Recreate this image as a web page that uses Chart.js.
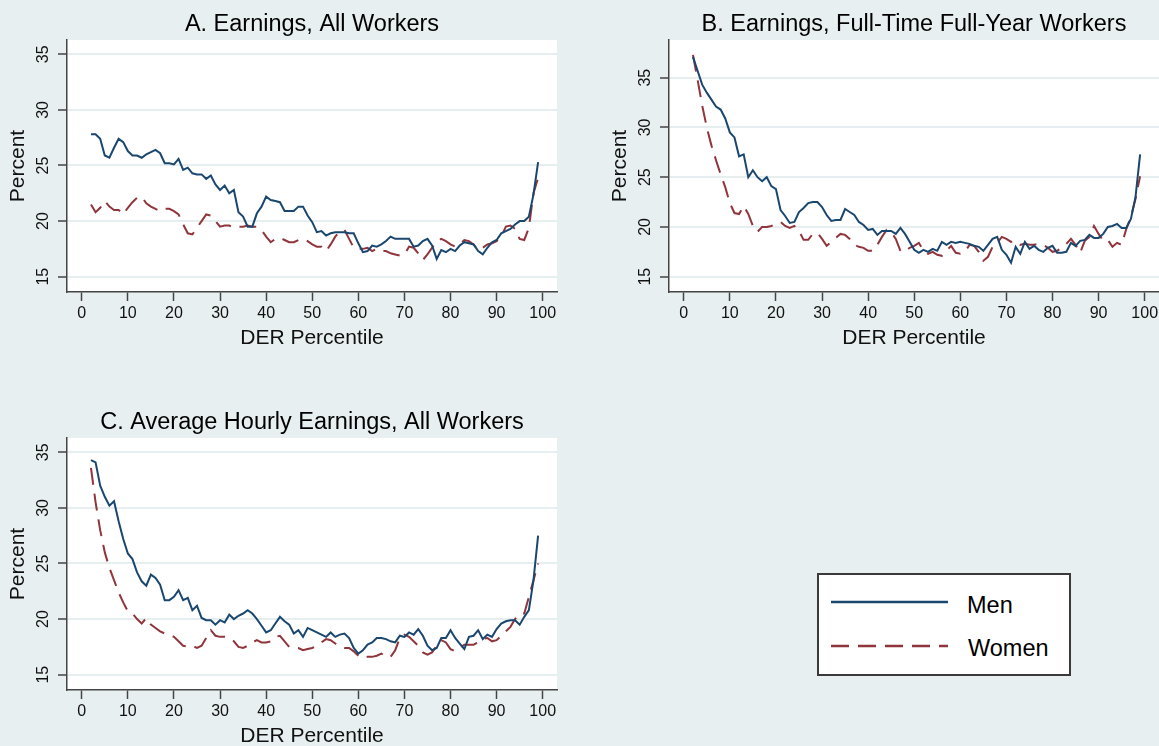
<!DOCTYPE html>
<html>
<head>
<meta charset="utf-8">
<script src="https://cdn.jsdelivr.net/npm/chart.js@4.4.1/dist/chart.umd.min.js"></script>
<style>
  html, body { margin: 0; padding: 0; width: 1159px; height: 746px; overflow: hidden; background: #e8eff0; }
  canvas { position: absolute; }
  #legend { position: absolute; left: 817px; top: 573px; }
</style>
</head>
<body>
<canvas id="panelA" width="580" height="360" style="left:0px;top:0px"></canvas>
<canvas id="panelB" width="580" height="360" style="left:602px;top:0px"></canvas>
<canvas id="panelC" width="580" height="360" style="left:0px;top:398px"></canvas>

<svg id="legend" width="254" height="103" font-family="Liberation Sans, Arial, sans-serif">
  <rect x="1" y="1" width="252" height="101" fill="#fff" stroke="#3a3a3a" stroke-width="2"/>
  <line x1="14" y1="29" x2="131" y2="29" stroke="#1a476f" stroke-width="2.5"/>
  <line x1="14" y1="73" x2="131" y2="73" stroke="#90353b" stroke-width="2.5" stroke-dasharray="18 9"/>
  <text x="150" y="40" font-size="23.5" fill="#000">Men</text>
  <text x="151" y="83" font-size="23.5" fill="#000">Women</text>
</svg>

<script>
const FONT = '"Liberation Sans", Arial, Helvetica, sans-serif';
const MEN_COLOR = '#1a476f';
const WOMEN_COLOR = '#90353b';

// DER percentile (x) for every point
const percentiles = [
  2, 3, 4, 5, 6, 7, 8, 9, 10, 11, 12, 13, 14, 15, 16, 17, 18, 19, 20, 21,
  22, 23, 24, 25, 26, 27, 28, 29, 30, 31, 32, 33, 34, 35, 36, 37, 38, 39, 40, 41,
  42, 43, 44, 45, 46, 47, 48, 49, 50, 51, 52, 53, 54, 55, 56, 57, 58, 59, 60, 61,
  62, 63, 64, 65, 66, 67, 68, 69, 70, 71, 72, 73, 74, 75, 76, 77, 78, 79, 80, 81,
  82, 83, 84, 85, 86, 87, 88, 89, 90, 91, 92, 93, 94, 95, 96, 97, 98, 99
];

const xTicks = [0, 10, 20, 30, 40, 50, 60, 70, 80, 90, 100];
const yTicks = [15, 20, 25, 30, 35];

// A. Earnings, All Workers
const menA = [
  27.8, 27.8, 27.4, 25.9, 25.7, 26.6, 27.4, 27.1, 26.3, 25.9,
  25.9, 25.7, 26.0, 26.2, 26.4, 26.1, 25.2, 25.2, 25.1, 25.6,
  24.6, 24.8, 24.3, 24.2, 24.2, 23.8, 24.1, 23.3, 22.8, 23.2,
  22.5, 22.8, 20.8, 20.4, 19.5, 19.5, 20.7, 21.3, 22.2, 21.9,
  21.8, 21.7, 20.9, 20.9, 20.9, 21.3, 21.3, 20.5, 19.9, 19.0,
  19.1, 18.7, 18.9, 19.0, 19.0, 19.0, 18.9, 18.9, 18.0, 17.2,
  17.3, 17.8, 17.7, 17.9, 18.2, 18.6, 18.4, 18.4, 18.4, 18.4,
  17.7, 17.8, 18.2, 18.4, 17.8, 16.6, 17.4, 17.2, 17.5, 17.3,
  17.8, 18.1, 18.0, 17.9, 17.3, 17.0, 17.6, 18.1, 18.3, 18.9,
  19.1, 19.3, 19.7, 20.0, 20.0, 20.4, 22.4, 25.3
];
const womenA = [
  21.5, 20.8, 21.2, 21.8, 21.3, 21.0, 21.0, 20.6, 21.2, 21.7,
  22.1, 22.2, 21.6, 21.3, 21.1, 20.9, 21.1, 21.1, 20.9, 20.6,
  19.7, 18.9, 18.8, 19.4, 20.0, 20.6, 20.5, 20.0, 19.5, 19.6,
  19.6, 19.4, 19.5, 19.5, 19.6, 19.5, 19.5, 19.2, 18.6, 18.1,
  18.4, 18.5, 18.3, 18.1, 18.1, 18.3, 18.4, 18.2, 17.9, 17.7,
  17.7, 17.3, 17.9, 18.6, 19.1, 19.2, 18.4, 17.6, 17.5, 17.5,
  17.6, 17.3, 17.5, 17.3, 17.3, 17.1, 17.0, 16.9, 17.0, 17.7,
  17.6, 17.1, 16.5, 17.0, 17.6, 18.2, 18.4, 18.2, 17.9, 17.7,
  17.9, 18.3, 18.2, 17.9, 17.4, 17.6, 17.9, 18.0, 18.2, 18.6,
  19.5, 19.6, 19.3, 18.4, 18.3, 19.4, 22.5, 23.9
];

// B. Earnings, Full-Time Full-Year Workers
const menB = [
  37.1, 35.7, 34.3, 33.5, 32.8, 32.1, 31.8, 30.9, 29.5, 29.0,
  27.1, 27.3, 25.0, 25.7, 25.0, 24.6, 25.0, 24.1, 23.8, 21.7,
  21.1, 20.4, 20.5, 21.5, 21.9, 22.4, 22.5, 22.5, 22.0, 21.2,
  20.6, 20.7, 20.7, 21.8, 21.5, 21.2, 20.5, 20.2, 19.7, 19.8,
  19.2, 19.6, 19.6, 19.6, 19.3, 19.9, 19.3, 18.5, 17.7, 17.4,
  17.7, 17.5, 17.8, 17.6, 18.5, 18.2, 18.5, 18.4, 18.5, 18.4,
  18.3, 18.1, 18.0, 17.6, 18.2, 18.8, 19.0, 17.7, 17.2, 16.4,
  18.0, 17.3, 18.5, 17.8, 18.1, 17.7, 17.5, 17.9, 18.1, 17.4,
  17.4, 17.5, 18.4, 18.1, 18.6, 18.7, 19.2, 18.9, 18.9, 19.3,
  20.0, 20.1, 20.3, 19.9, 19.9, 20.8, 23.0, 27.3
];
const womenB = [
  37.3, 34.8, 32.2, 30.0, 28.2, 26.7, 25.3, 24.0, 22.4, 21.4,
  21.3, 22.1, 21.3, 20.1, 19.5, 20.0, 20.0, 20.1, 20.3, 20.5,
  20.1, 19.9, 20.1, 19.6, 18.7, 18.7, 19.3, 19.4, 18.8, 18.1,
  18.5, 18.9, 19.3, 19.2, 18.8, 18.2, 18.0, 17.9, 17.6, 17.6,
  18.2, 19.0, 19.7, 19.5, 18.8, 17.6, 17.5, 17.9, 18.1, 18.4,
  17.6, 17.3, 17.5, 17.2, 17.1, 17.6, 18.1, 17.4, 17.3, 17.5,
  18.2, 18.1, 17.5, 16.6, 17.0, 18.0, 18.4, 19.0, 18.8, 18.5,
  18.6, 18.2, 18.3, 18.2, 18.2, 18.3, 18.2, 17.9, 17.5, 17.6,
  17.9, 18.3, 18.8, 18.2, 17.4, 18.6, 19.0, 20.1, 19.3, 18.6,
  18.7, 18.0, 18.4, 18.2, 19.8, 21.0, 22.8, 25.1
];

// C. Average Hourly Earnings, All Workers
const menC = [
  34.3, 34.1, 32.0, 31.0, 30.2, 30.6, 28.8, 27.2, 25.9, 25.4,
  24.2, 23.4, 23.0, 24.0, 23.7, 23.1, 21.7, 21.7, 22.0, 22.6,
  21.7, 21.9, 20.8, 21.2, 20.1, 19.9, 19.9, 19.5, 19.9, 19.7,
  20.4, 20.0, 20.3, 20.5, 20.8, 20.5, 20.0, 19.4, 18.8, 19.0,
  19.6, 20.2, 19.8, 19.5, 18.7, 19.0, 18.4, 19.2, 19.0, 18.8,
  18.6, 18.4, 18.8, 18.4, 18.6, 18.7, 18.3, 17.4, 16.9, 17.2,
  17.7, 17.9, 18.3, 18.3, 18.2, 18.0, 17.9, 18.5, 18.4, 18.8,
  18.6, 19.1, 18.5, 17.6, 17.2, 17.4, 18.3, 18.3, 19.0, 18.3,
  17.8, 17.3, 18.4, 18.5, 19.0, 18.2, 18.6, 18.4, 19.1, 19.6,
  19.8, 19.9, 19.9, 19.5, 20.2, 20.8, 23.5, 27.5
];
const womenC = [
  33.6, 30.5, 28.0, 26.0, 24.6, 23.5, 22.4, 21.5, 20.7, 20.5,
  20.0, 19.6, 20.1, 19.5, 19.2, 18.9, 18.7, 18.6, 18.4, 18.0,
  17.6, 17.5, 17.6, 17.4, 17.6, 18.3, 19.0, 18.5, 18.4, 18.4,
  18.3, 18.0, 17.5, 17.4, 17.6, 17.9, 18.1, 17.9, 17.9, 18.0,
  18.4, 18.5, 18.0, 17.5, 17.4, 17.4, 17.2, 17.3, 17.4, 17.6,
  17.9, 18.2, 18.1, 17.8, 17.5, 17.4, 17.4, 17.1, 16.7, 16.5,
  16.6, 16.6, 16.7, 16.9, 16.6, 16.6, 17.2, 18.3, 18.6, 18.4,
  18.0, 17.6, 17.0, 16.8, 17.0, 17.6, 18.1, 17.9, 17.3, 17.1,
  17.4, 17.7, 17.7, 17.7, 17.9, 18.2, 18.3, 18.0, 18.1, 18.5,
  18.9, 19.3, 20.0, 20.5, 20.5, 22.0, 23.5, 25.0
];

// white plot region + centred panel title
const panelDecor = {
  id: 'panelDecor',
  beforeDraw(chart) {
    const { ctx, chartArea: a } = chart;
    ctx.save();
    ctx.fillStyle = '#ffffff';
    ctx.fillRect(a.left, a.top, a.right - a.left, a.bottom - a.top);
    ctx.fillStyle = '#000';
    ctx.font = '23.5px ' + FONT;
    ctx.textAlign = 'center';
    ctx.textBaseline = 'alphabetic';
    ctx.fillText(chart.options.panelTitle, (a.left + a.right) / 2, 30.5);
    ctx.restore();
  }
};

// Stata style: y tick labels turned vertical
const verticalYLabels = {
  id: 'verticalYLabels',
  afterDraw(chart) {
    const s = chart.scales.y, ctx = chart.ctx;
    ctx.save();
    ctx.fillStyle = '#111';
    ctx.font = '16px ' + FONT;
    ctx.textAlign = 'center';
    ctx.textBaseline = 'middle';
    s.ticks.forEach(t => {
      ctx.save();
      ctx.translate(s.right - 23.5, s.getPixelForValue(t.value));
      ctx.rotate(-Math.PI / 2);
      ctx.fillText(String(t.value), 0, 0);
      ctx.restore();
    });
    ctx.restore();
  }
};

function makePanel(id, title, men, women, yMin, yMax) {
  const toPoints = vals => percentiles.map((p, i) => ({ x: p, y: vals[i] }));
  return new Chart(document.getElementById(id), {
    type: 'line',
    data: {
      datasets: [
        { label: 'Men', data: toPoints(men), borderColor: MEN_COLOR, borderWidth: 2,
          pointRadius: 0, tension: 0, fill: false },
        { label: 'Women', data: toPoints(women), borderColor: WOMEN_COLOR, borderWidth: 2,
          borderDash: [17, 9], pointRadius: 0, tension: 0, fill: false }
      ]
    },
    options: {
      panelTitle: title,
      responsive: false,
      animation: false,
      events: [],
      layout: { padding: { left: 0, right: 23, top: 40, bottom: 0 } },
      plugins: {
        legend: { display: false },
        tooltip: { enabled: false },
        title: { display: false }
      },
      scales: {
        x: {
          type: 'linear',
          min: -3.2,
          max: 103.1,
          afterBuildTicks: s => { s.ticks = xTicks.map(v => ({ value: v })); },
          afterFit: s => { s.height = 68; },
          grid: { drawOnChartArea: false, drawTicks: true, tickLength: 9, tickColor: '#444', tickWidth: 1.5 },
          border: { display: true, color: '#444', width: 1.5 },
          ticks: { color: '#111', font: { size: 16, family: FONT }, padding: 3,
                   maxRotation: 0, autoSkip: false },
          title: { display: true, text: 'DER Percentile', color: '#111',
                   font: { size: 21, family: FONT }, padding: { top: 0, bottom: 9 } }
        },
        y: {
          type: 'linear',
          min: yMin,
          max: yMax,
          afterBuildTicks: s => { s.ticks = yTicks.map(v => ({ value: v })); },
          afterFit: s => { s.width = 67; },
          grid: { color: '#e6eef0', lineWidth: 2, drawTicks: true, tickLength: 9,
                  tickColor: '#444', tickWidth: 1.5 },
          border: { display: true, color: '#444', width: 1.5 },
          ticks: { color: 'rgba(0,0,0,0)', font: { size: 16, family: FONT } },
          title: { display: true, text: 'Percent', color: '#111',
                   font: { size: 21, family: FONT }, padding: { top: 6, bottom: 0 } }
        }
      }
    },
    plugins: [panelDecor, verticalYLabels]
  });
}

makePanel('panelA', 'A. Earnings, All Workers', menA, womenA, 13.62, 36.29);
makePanel('panelB', 'B. Earnings, Full-Time Full-Year Workers', menB, womenB, 13.46, 38.79);
makePanel('panelC', 'C. Average Hourly Earnings, All Workers', menC, womenC, 13.62, 36.29);
</script>
</body>
</html>
